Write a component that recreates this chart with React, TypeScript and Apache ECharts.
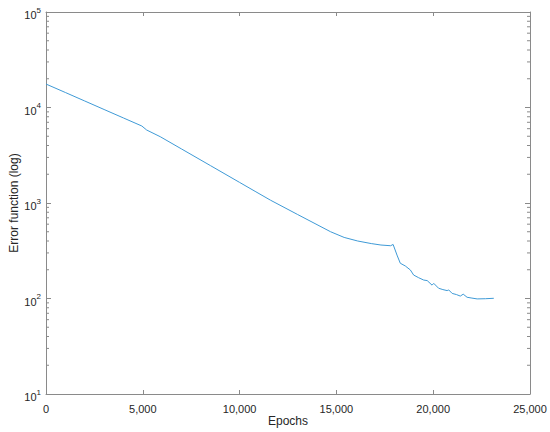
import React, { useEffect, useRef } from "react";
import * as echarts from "echarts";

const epochs = [0, 1000, 2000, 3000, 4000, 4950, 5200, 5900, 7000, 8500, 10000, 10800, 11600, 13000, 14700, 15400, 16100, 16800, 17300, 17800, 17930, 18130, 18300, 18560, 18820, 18990, 19250, 19510, 19690, 19940, 20030, 20280, 20500, 20720, 20800, 20980, 21200, 21400, 21550, 21750, 22000, 22270, 22700, 23130];
const errors = [17600, 14360, 11700, 9530, 7770, 6400, 5810, 4946, 3680, 2460, 1643, 1325, 1069, 757, 500, 436, 400, 376, 363, 357, 368, 285, 234, 219, 199, 176, 165, 156, 154, 138, 144, 128, 124, 121, 123, 113, 110, 106, 111, 103, 101, 99, 99.5, 100.5];

const xMin = 0;
const xMax = 25000;
const xStep = 5000;
const yMin = 10;
const yMax = 100000;
const minorYTicks: number[] = [];
for (let k = 1; k <= 4; k++) {
  for (let m = 2; m <= 9; m++) minorYTicks.push(m * Math.pow(10, k));
}

const axisColor = "#8a8a8a";
const textColor = "#262626";
const font = "Liberation Sans, Arial, Helvetica, sans-serif";

export default function App() {
  const ref = useRef<HTMLDivElement>(null);
  useEffect(() => {
    if (!ref.current) return;
    const chart = echarts.init(ref.current, undefined, { renderer: "svg" });
    const commonX = {
      type: "value" as const,
      min: xMin,
      max: xMax,
      interval: xStep,
      splitLine: { show: false },
      axisLine: { show: true, onZero: false, lineStyle: { color: axisColor, width: 1 } },
      axisTick: { show: true, inside: true, length: 4, lineStyle: { color: axisColor } },
    };
    const commonY = {
      type: "log" as const,
      logBase: 10,
      min: yMin,
      max: yMax,
      splitLine: { show: false },
      axisLine: { show: true, onZero: false, lineStyle: { color: axisColor, width: 1 } },
      axisTick: { show: true, inside: true, length: 5, lineStyle: { color: axisColor } },
    };
    chart.setOption({
      animation: false,
      textStyle: { fontFamily: font },
      grid: { left: 46, right: 20, top: 12, bottom: 38, containLabel: false, outerBoundsMode: "none" },
      xAxis: [
        {
          ...commonX,
          position: "bottom",
          name: "Epochs",
          nameLocation: "middle",
          nameGap: 21,
          nameMoveOverlap: false,
          nameTextStyle: { fontSize: 12, color: textColor, fontFamily: font },
          axisLabel: {
            color: textColor,
            fontSize: 11,
            margin: 9,
            fontFamily: font,
            formatter: (v: number) => v.toLocaleString("en-US"),
          },
        },
        { ...commonX, position: "top", axisLabel: { show: false } },
      ],
      yAxis: [
        {
          ...commonY,
          position: "left",
          name: "Error function (log)",
          nameLocation: "middle",
          nameGap: 26,
          nameMoveOverlap: false,
          nameTextStyle: { fontSize: 12, color: textColor, fontFamily: font },
          axisLabel: {
            color: textColor,
            margin: 5,
            fontFamily: font,
            formatter: (v: number) => `{b|10}{s|${Math.round(Math.log10(v))}}`,
            rich: {
              b: { fontSize: 11, color: textColor, fontFamily: font, padding: [6, 0, 0, 0] },
              s: { fontSize: 8, color: textColor, fontFamily: font, padding: [0, 0, 4, 0] },
            },
          },
        },
        { ...commonY, position: "right", axisLabel: { show: false } },
      ],
      series: [
        {
          type: "line",
          data: epochs.map((e, i) => [e, errors[i]]),
          showSymbol: false,
          symbol: "none",
          lineStyle: { color: "#3f9ad6", width: 1 },
          xAxisIndex: 0,
          yAxisIndex: 0,
        },
        {
          type: "custom",
          xAxisIndex: 0,
          yAxisIndex: 0,
          silent: true,
          data: minorYTicks.map((v) => [xMin, v]),
          renderItem: (params: any, api: any) => {
            const v = api.value(1);
            const p = api.coord([xMin, v]);
            const q = api.coord([xMax, v]);
            const style = { stroke: axisColor, lineWidth: 1 };
            return {
              type: "group",
              children: [
                { type: "line", shape: { x1: p[0], y1: p[1], x2: p[0] + 3, y2: p[1] }, style },
                { type: "line", shape: { x1: q[0] - 3, y1: q[1], x2: q[0], y2: q[1] }, style },
              ],
            };
          },
        },
      ],
    });
    return () => chart.dispose();
  }, []);
  return <div ref={ref} style={{ position: "absolute", left: 0, top: 0, width: 550, height: 432 }} />;
}
